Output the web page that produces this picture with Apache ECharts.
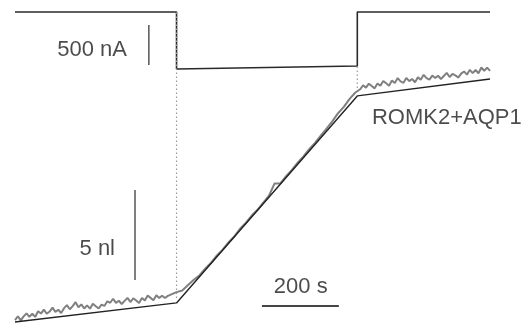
<!DOCTYPE html>
<html>
<head>
<meta charset="utf-8">
<script src="https://cdn.jsdelivr.net/npm/echarts@6/dist/echarts.min.js"></script>
<style>html,body{margin:0;padding:0;background:#fff}#c{width:525px;height:329px}</style>
</head>
<body>
<div id="c"></div>
<script>
// Time (s) of each recorded volume sample
var volumeTimes = [0,7.5,15,22.5,30,37.5,45,52.5,60,67.5,75,82.5,90,97.5,105,112.5,120,127.5,135,142.5,150,157.5,165,172.5,180,187.5,195,202.5,210,217.5,225,232.5,240,247.5,255,262.5,270,277.5,285,292.5,300,307.5,315,322.5,330,337.5,345,352.5,360,367.5,375,382.5,390,397.5,405,412.5,420,
435,450,465,480,495,510,525,540,555,570,585,600,615,630,645,660,675,690,705,720,735,750,765,780,795,810,825,840,855,870,885,
897.5,905,912.5,920,927.5,935,942.5,950,957.5,965,972.5,980,987.5,995,1002.5,1010,1017.5,1025,1032.5,1040,1047.5,1055,1062.5,1070,1077.5,1085,1092.5,1100,1107.5,1115,1122.5,1130,1137.5,1145,1152.5,1160,1167.5,1175,1182.5,1190,1197.5,1205,1212.5,1220,1227.5,1235];
// Recorded oocyte volume change (nl)
var volumeValues = [0.10,0.32,0.09,0.31,0.48,0.29,0.46,0.28,0.60,0.47,0.69,0.46,0.58,0.80,0.56,0.68,0.50,0.77,0.94,0.71,0.88,1.10,0.82,0.98,0.75,0.92,0.74,1.01,0.88,0.75,0.97,0.89,1.15,1.07,1.29,1.06,1.18,1.00,1.17,1.34,1.11,1.32,1.19,1.06,1.33,1.20,1.47,1.34,1.21,1.48,1.34,1.46,1.33,1.45,1.52,1.59,1.66,
1.75,2.05,2.35,2.60,2.98,3.30,3.70,4.02,4.42,4.75,5.18,5.50,5.90,6.22,6.62,7.00,7.70,7.70,8.10,8.45,8.85,9.20,9.60,9.95,10.35,10.75,11.15,11.60,11.95,12.40,12.75,
12.93,13.15,13.02,13.24,13.11,12.98,13.25,13.12,13.39,13.26,13.13,13.41,13.28,13.55,13.37,13.29,13.56,13.38,13.50,13.32,13.59,13.46,13.73,13.55,13.47,13.69,13.56,13.68,13.50,13.67,13.84,13.61,13.78,13.70,13.58,13.80,13.92,13.74,14.01,13.83,14.00,13.82,14.14,13.96,14.13,13.95];
// Linear fit segments (time s, volume nl)
var fitTimes = [0,420,890,1235];
var fitValues = [0,1.06,12.56,13.5];
// Clamp current trace (time s, current nA)
var currentTimes = [0,420,420,890,890,1235];
var currentValues = [0,0,-712,-675,0,0];
// Dotted markers at current on/off (time s, top nl, bottom nl)
var markerTimes = [420,890];
var markerTop = [17.2,14.2];
var markerBottom = [1.3,12.9];
// Scale bars
var currentBarTime = 348, currentBarRange = [-162.5,-662.5];   // 500 nA
var volumeBarTime = 312, volumeBarRange = [2.33,7.33];         // 5 nl
var timeBarLevel = 0.89, timeBarRange = [642,842];             // 200 s
// Text annotations
var labels = [
  {axis:1, t:291, v:-469, text:'500 nA', align:'right'},
  {axis:0, t:260, v:4.08, text:'5 nl', align:'right'},
  {axis:0, t:743, v:1.94, text:'200 s', align:'center'},
  {axis:0, t:928, v:11.33, text:'ROMK2+AQP1', align:'left'}
];

function zip(a,b){return a.map(function(x,i){return [x,b[i]];});}

var series = [];
series.push({type:'line', yAxisIndex:1, data:zip(currentTimes,currentValues), showSymbol:false, symbol:'none',
  lineStyle:{color:'#2a2a2a', width:1.6}, animation:false});
markerTimes.forEach(function(t,i){
  series.push({type:'line', yAxisIndex:0, data:[[t,markerTop[i]],[t,markerBottom[i]]], symbol:'none',
    lineStyle:{color:'#9a9a9a', width:1.2, type:[1.5,2.5]}, animation:false});
});
series.push({type:'line', yAxisIndex:0, data:zip(volumeTimes,volumeValues), symbol:'none',
  lineStyle:{color:'#808080', width:2}, animation:false});
series.push({type:'line', yAxisIndex:0, data:zip(fitTimes,fitValues), symbol:'none',
  lineStyle:{color:'#222', width:1.4}, animation:false});
series.push({type:'line', yAxisIndex:1, data:[[currentBarTime,currentBarRange[0]],[currentBarTime,currentBarRange[1]]], symbol:'none',
  lineStyle:{color:'#555', width:1.5}, animation:false});
series.push({type:'line', yAxisIndex:0, data:[[volumeBarTime,volumeBarRange[0]],[volumeBarTime,volumeBarRange[1]]], symbol:'none',
  lineStyle:{color:'#555', width:1.5}, animation:false});
series.push({type:'line', yAxisIndex:0, data:[[timeBarRange[0],timeBarLevel],[timeBarRange[1],timeBarLevel]], symbol:'none',
  lineStyle:{color:'#444', width:2}, animation:false});
labels.forEach(function(l){
  series.push({type:'scatter', yAxisIndex:l.axis, data:[[l.t,l.v]], symbolSize:0, animation:false, silent:true,
    label:{show:true, position:'inside', formatter:l.text, align:l.align, verticalAlign:'middle',
      color:'#1e1e1e', fontSize:22, fontFamily:'Liberation Sans, Arial, sans-serif'}});
});

var chart = echarts.init(document.getElementById('c'));
chart.setOption({
  backgroundColor:'#fff',
  animation:false,
  grid:{left:0,right:0,top:0,bottom:0},
  xAxis:{type:'value', min:-39, max:1326, show:false},
  yAxis:[
    {type:'value', min:-0.389, max:17.889, show:false},
    {type:'value', min:-3962.5, max:150, show:false}
  ],
  series:series
});
</script>
</body>
</html>
